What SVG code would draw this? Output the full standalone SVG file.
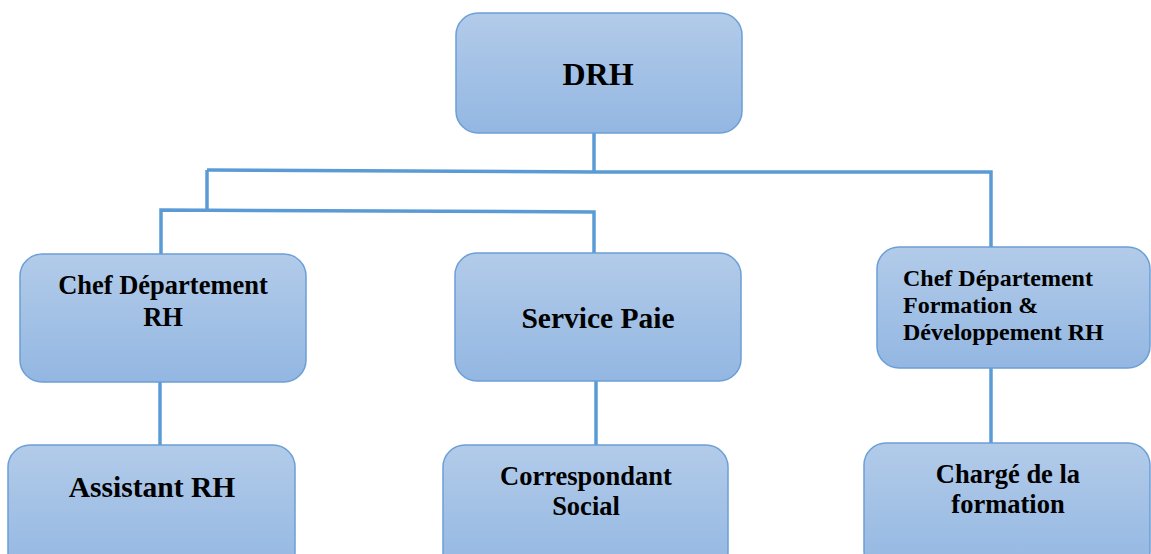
<svg xmlns="http://www.w3.org/2000/svg" width="1151" height="554" viewBox="0 0 1151 554">
<defs>
<linearGradient id="g" x1="0" y1="0" x2="0" y2="1">
<stop offset="0" stop-color="#b2cbe9"/>
<stop offset="1" stop-color="#93b7e2"/>
</linearGradient>
<style>
.box{fill:url(#g);stroke:#6c9fd6;stroke-width:1.5}
.t{font-family:"Liberation Serif","Times New Roman",serif;font-weight:bold;fill:#000;text-anchor:middle}
.l{text-anchor:start}
.c{fill:none;stroke:#5b9bd5;stroke-width:3.5}
</style>
</defs>
<rect width="1151" height="554" fill="#fff"/>
<g id="connectors">
<path class="c" d="M594 133 V172"/>
<path class="c" d="M207 170 L594 172 H991 V247"/>
<path class="c" d="M207 170 V210"/>
<path class="c" d="M161 254 V210 L594 212 V253"/>
<path class="c" d="M160 382 V445"/>
<path class="c" d="M596 381 V445"/>
<path class="c" d="M991 368 V443"/>
</g>
<g id="drh">
<rect class="box" x="456" y="13" width="286" height="120" rx="22"/>
<text class="t" x="598" y="85" font-size="32">DRH</text>
</g>
<g id="chef-rh">
<rect class="box" x="20" y="254" width="286" height="128" rx="22"/>
<text class="t" x="163" y="294" font-size="26.5">Chef Département</text>
<text class="t" x="163" y="326" font-size="26.5">RH</text>
</g>
<g id="service-paie">
<rect class="box" x="455" y="253" width="286" height="128" rx="22"/>
<text class="t" x="598" y="328" font-size="29.5">Service Paie</text>
</g>
<g id="chef-fd">
<rect class="box" x="877" y="247" width="273" height="121" rx="22"/>
<text class="t l" x="903" y="286" font-size="24">Chef Département</text>
<text class="t l" x="903" y="313" font-size="24">Formation &amp;</text>
<text class="t l" x="903" y="340" font-size="24">Développement RH</text>
</g>
<g id="assistant-rh">
<rect class="box" x="8" y="445" width="287" height="130" rx="22"/>
<text class="t" x="152" y="497" font-size="29.5">Assistant RH</text>
</g>
<g id="correspondant">
<rect class="box" x="443" y="445" width="285" height="130" rx="22"/>
<text class="t" x="586" y="485" font-size="26.5">Correspondant</text>
<text class="t" x="586" y="515" font-size="26.5">Social</text>
</g>
<g id="charge">
<rect class="box" x="864" y="443" width="286" height="130" rx="22"/>
<text class="t" x="1008" y="483" font-size="26.5">Chargé de la</text>
<text class="t" x="1008" y="513" font-size="26.5">formation</text>
</g>
</svg>
